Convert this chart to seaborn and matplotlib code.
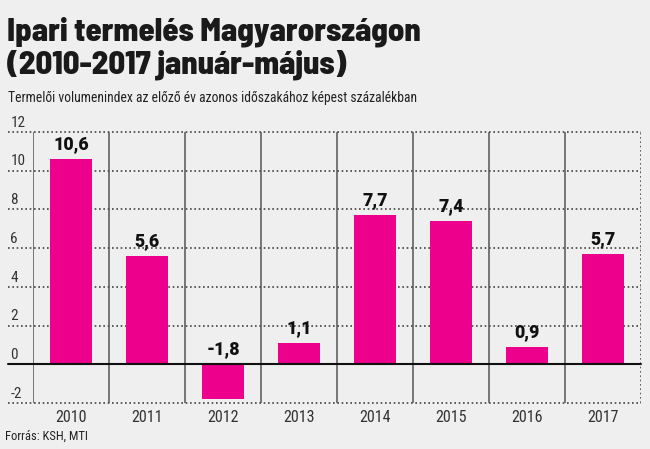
import matplotlib
matplotlib.use('Agg')
import matplotlib.pyplot as plt
import matplotlib.transforms as mtransforms
import seaborn as sns
import pandas as pd

years = ['2010', '2011', '2012', '2013', '2014', '2015', '2016', '2017']
values = [10.6, 5.6, -1.8, 1.1, 7.7, 7.4, 0.9, 5.7]
y_ticks = [-2, 0, 2, 4, 6, 8, 10, 12]

bg = '#efefef'
pink = '#ec008c'

sns.set_style('white')
plt.rcParams['font.family'] = ['Roboto Condensed', 'Roboto', 'DejaVu Sans']
heavy = ['Barlow Semi Condensed', 'Roboto Condensed', 'DejaVu Sans']

W, H = 650, 449
fig = plt.figure(figsize=(6.5, 4.49), dpi=100, facecolor=bg)
ax = fig.add_axes([33 / W, (H - 403) / H, (641 - 33) / W, (403 - 132) / H])
ax.set_facecolor(bg)

df = pd.DataFrame({'year': years, 'value': values})
sns.barplot(data=df, x='year', y='value', color=pink, width=0.54,
            saturation=1, linewidth=0, edgecolor='none', ax=ax, zorder=3)

ax.set_ylim(-2, 12)
ax.set_xlim(-0.5, len(years) - 0.5)
for s in ax.spines.values():
    s.set_visible(False)
ax.set_xlabel('')
ax.set_ylabel('')
ax.set_yticks([])
ax.tick_params(axis='x', length=0, pad=5, labelsize=11.5, labelcolor='#333333')

# dotted gridlines, reaching left past the axis
x0 = (8 - 33) / (641 - 33)
trans = mtransforms.blended_transform_factory(ax.transAxes, ax.transData)
for t in y_ticks:
    if t == 0:
        ax.axhline(0, xmin=x0, xmax=1, color='#111111', lw=1.5,
                   clip_on=False, zorder=4)
    else:
        ax.axhline(t, xmin=x0, xmax=1, color='#444444', lw=1.2,
                   ls=(0, (1, 1.6)), clip_on=False, zorder=1)
    ax.text(x0 + 0.004, t + 0.12, str(t), transform=trans, ha='left',
            va='bottom', fontsize=11, color='#333333')

# vertical separators
for i in range(len(years)):
    ax.axvline(i - 0.5, color='#555555', lw=1.1, zorder=2)
ax.axvline(len(years) - 0.5, color='#444444', lw=1.2, ls=(0, (1, 1.6)), zorder=2)

# value labels
for i, v in enumerate(values):
    ax.text(i, max(v, 0) + 0.3, f'{v:.1f}'.replace('.', ','), ha='center',
            va='bottom', fontsize=12.8, fontweight=900,
            family=['Roboto', 'DejaVu Sans'], color='#111111')

fig.text(7 / W, 1 - 48 / H, 'Ipari termelés Magyarországon\n(2010-2017 január-május)',
         fontsize=23.5, fontweight=800, family=heavy, color='#1a1a1a',
         ha='left', va='center', linespacing=1.1)
fig.text(8 / W, 1 - 98 / H,
         'Termelői volumenindex az előző év azonos időszakához képest százalékban',
         fontsize=9.8, color='#222222', ha='left', va='center')
fig.text(5 / W, 1 - 436 / H, 'Forrás: KSH, MTI', fontsize=9,
         color='#222222', ha='left', va='center')

fig.savefig('out.png', dpi=100, facecolor=bg)
